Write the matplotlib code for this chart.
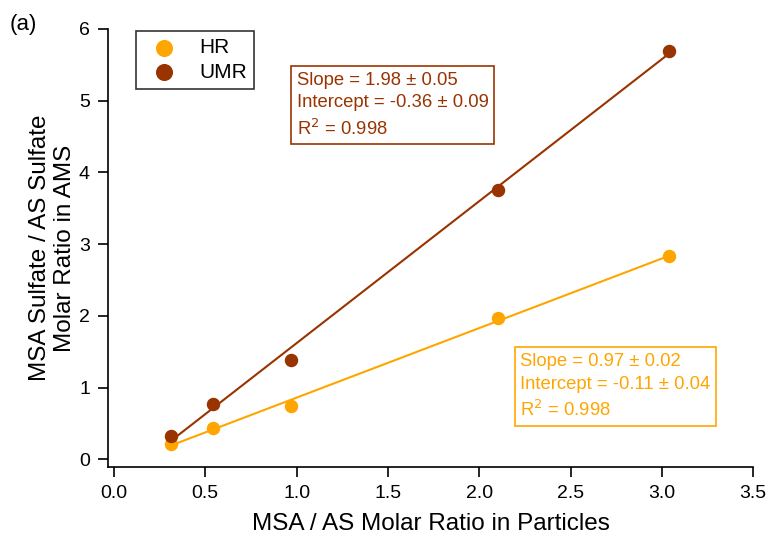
import matplotlib.pyplot as plt
import numpy as np

plt.rcParams['font.family'] = ['Liberation Sans', 'DejaVu Sans']

# MSA / AS molar ratio in the particles
particle_ratio = [0.31, 0.54, 0.97, 2.10, 3.04]
# AMS sulfate ratio, high resolution and unit mass resolution fits
hr_ratio = [0.21, 0.44, 0.75, 1.97, 2.83]
umr_ratio = [0.33, 0.77, 1.38, 3.76, 5.69]

hr_fit = (0.97, -0.11)
umr_fit = (1.98, -0.36)

hr_color = '#FFA500'
umr_color = '#993300'

fig = plt.figure(figsize=(7.71, 5.37), dpi=100)
ax = fig.add_axes([0.140, 0.130, 0.837, 0.816])

xfit = np.array([min(particle_ratio), max(particle_ratio)])
ax.plot(xfit, hr_fit[0] * xfit + hr_fit[1], color=hr_color, lw=1.5, zorder=2)
ax.plot(xfit, umr_fit[0] * xfit + umr_fit[1], color=umr_color, lw=1.5, zorder=2)

ax.scatter(particle_ratio, hr_ratio, s=75, color=hr_color, label='HR', zorder=3)
ax.scatter(particle_ratio, umr_ratio, s=75, color=umr_color, label='UMR', zorder=3)

ax.set_xlim(-0.033, 3.5)
ax.set_ylim(-0.11, 6)
ax.set_xticks(np.arange(0, 3.51, 0.5))
ax.set_yticks(range(0, 7))
ax.set_xticklabels([f'{t:.1f}' for t in np.arange(0, 3.51, 0.5)])

for side in ('top', 'right'):
    ax.spines[side].set_visible(False)
for side in ('left', 'bottom'):
    ax.spines[side].set_linewidth(1.2)
ax.tick_params(labelsize=14, length=7, width=1.2, direction='out', pad=6)

ax.set_xlabel('MSA / AS Molar Ratio in Particles', fontsize=17.5, labelpad=8)
ax.set_ylabel('MSA Sulfate / AS Sulfate\nMolar Ratio in AMS', fontsize=17.5, labelpad=2)

leg = ax.legend(loc='upper left', bbox_to_anchor=(0.043, 0.995), fontsize=15,
                frameon=True, fancybox=False, edgecolor='black', markerscale=1.3,
                handletextpad=0.7, borderpad=0.35, labelspacing=0.25, borderaxespad=0)
leg.get_frame().set_linewidth(1.2)

ax.text(0.293, 0.903,
        'Slope = 1.98 \u00b1 0.05\nIntercept = -0.36 \u00b1 0.09\nR$^2$ = 0.998',
        transform=ax.transAxes, fontsize=13.3, color=umr_color, va='top',
        linespacing=1.45,
        bbox=dict(boxstyle='square,pad=0.3', fc='white', ec=umr_color, lw=1.2))
ax.text(0.639, 0.261,
        'Slope = 0.97 \u00b1 0.02\nIntercept = -0.11 \u00b1 0.04\nR$^2$ = 0.998',
        transform=ax.transAxes, fontsize=13.3, color=hr_color, va='top',
        linespacing=1.45,
        bbox=dict(boxstyle='square,pad=0.3', fc='white', ec=hr_color, lw=1.2))

fig.text(0.012, 0.945, '(a)', fontsize=16)

fig.savefig('out.png', dpi=100)
